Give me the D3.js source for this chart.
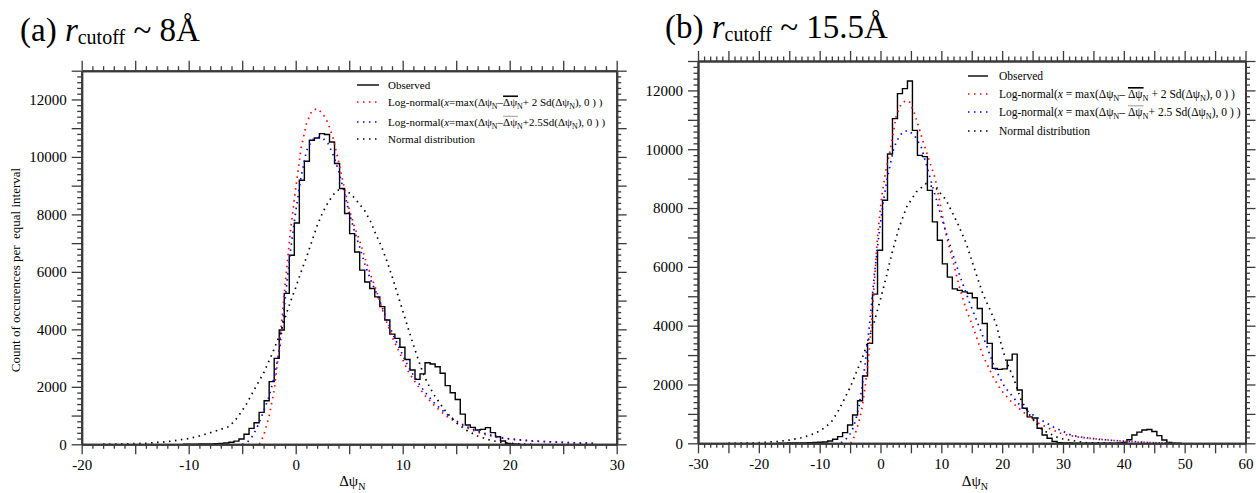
<!DOCTYPE html>
<html><head><meta charset="utf-8">
<script src="https://cdn.jsdelivr.net/npm/d3@7"></script>
<style>body{margin:0;background:#fff}svg{display:block}</style>
</head><body>
<svg id="chart" width="1256" height="493"></svg>
<script>
// ---------------- DATA ----------------
// Panel (a): r_cutoff ~ 8 Å  — observed histogram (bin left edge start, bin width, counts)
const obsA_binStart = -10.47;
const obsA_binWidth = 0.47;
const obsA_counts = [5,5,5,8,10,15,20,30,45,70,110,185,350,555,750,1110,1515,2180,2990,3975,
  5250,6580,7700,9190,9850,10580,10660,10810,10780,10520,9770,8900,8030,7330,6690,6060,5650,5420,5130,
  4790,4325,3835,3685,3375,2950,2585,2260,2450,2840,2795,2700,2470,2040,1795,1560,1050,670,590,500,520,
  580,405,265,115,30,10,0];
const redA_x = [-3.4,-3.0,-2.5,-2.0,-1.5,-1.0,-0.5,0,0.5,1,1.5,2,2.5,3,3.5,4,4.5,5,5.5,6,6.5,7,7.5,8,8.5,9,9.5,10,10.5,11,12,13,14,15,16,17,18,19,20,22,24,26,28];
const redA_y = [0,300,950,1900,3500,5500,7400,8900,10300,11150,11600,11680,11520,11200,10650,9850,9000,8180,7560,7060,6450,5900,5400,4800,4250,3750,3350,2950,2550,2250,1730,1330,1000,760,570,420,310,230,175,115,80,50,30];
const blueA_x = [-5,-4.5,-4,-3.5,-3,-2.5,-2,-1.5,-1,-0.5,0,0.5,1,1.5,2,2.5,3,3.5,4,4.5,5,5.5,6,6.5,7,7.5,8,8.5,9,9.5,10,10.5,11,12,13,14,15,16,17,18,19,20,22,24,26,28];
const blueA_y = [0,80,300,680,1150,1650,2350,3300,5000,6700,8100,9300,10200,10580,10680,10660,10480,10080,9530,8820,8060,7400,6840,6220,5730,5300,4850,4350,3900,3500,3100,2720,2400,1850,1420,1080,810,610,460,340,250,190,120,80,50,30];
const blackA_x = [-18,-16,-14,-12,-10,-9,-8,-7,-6.2,-5.4,-4.6,-3.8,-3.0,-2.2,-1.5,-1.0,-0.5,0,0.5,1,1.5,2,2.5,3,3.5,4,4.5,5,5.5,6,6.5,7,7.5,8,8.5,9,9.5,10,10.5,11,11.5,12,12.5,13,14,15,16,17,18,19,20,21,22];
const blackA_y = [5,15,35,90,200,290,400,520,620,950,1400,1950,2480,3150,3800,4400,4950,5450,6000,6500,7050,7600,8050,8400,8680,8850,8870,8750,8570,8340,8100,7750,7300,6900,6400,5850,5250,4650,4050,3450,2900,2380,2000,1680,1150,750,480,290,160,80,35,15,5];

// Panel (b): r_cutoff ~ 15.5 Å
const obsB_binStart = -16.89;
const obsB_binWidth = 0.82;
const obsB_counts = [5,5,8,10,12,15,20,25,35,45,78,136,226,362,622,961,1447,2286,3397,5071,
  6566,8264,9840,11040,11890,12060,12320,10640,9790,9750,8600,7530,6905,6100,5650,5250,5200,5150,5100,4950,
  4585,4076,3397,2548,2514,2530,2830,3033,1810,1190,900,860,510,282,170,60,20,
  10,8,6,5,5,5,5,5,5,5,5,10,30,120,280,380,450,470,400,260,110,25,5,0];
const redB_x = [-4.9,-4.5,-4,-3.5,-3,-2.5,-2,-1.5,-1,-0.5,0.2,0.9,1.6,2.6,3.4,4.2,4.8,5.6,6.3,7.1,8.1,9.0,9.9,10.8,11.9,13.0,14.0,15.2,16.8,18.5,19.8,21.5,23.4,25.5,27.7,29.9,32.1,34.3,38.6,43.0,46.0,48.5];
const redB_y = [0,130,420,760,1250,1950,2850,4000,5500,7000,8400,9300,9960,11150,11550,11660,11600,11210,10750,10190,9565,9000,8040,7075,6200,5300,4600,3960,3000,2262,1810,1413,1073,734,510,316,226,170,90,34,15,5];
const blueB_x = [-6.5,-6,-5.5,-5,-4.5,-4,-3.5,-3,-2.5,-2,-1.5,-1,-0.4,0.2,0.6,1.1,2.1,2.6,3.2,3.7,4.5,5.6,6.7,7.8,8.9,10.0,11.1,12.2,13.3,14.6,16.0,17.4,18.7,20.4,23.1,25.5,28.3,31.3,33.2,35.9,38.7,41.4,44.1,46.0,48.5];
const blueB_y = [20,80,180,320,520,850,1300,1950,2750,3650,4650,5750,6850,7800,8400,9000,9960,10245,10470,10585,10640,10470,10075,9285,8490,7700,6960,6225,5545,4810,4076,3339,2602,1923,1243,904,564,282,204,136,90,62,25,12,5];
const blackB_x = [-25,-20,-17,-15,-13,-12,-11,-10,-9,-8,-7,-6,-5,-4,-3,-2,-1,0,1,1.8,3,4.3,5.9,7.5,9.2,10.8,12.7,14.1,15.7,16.8,17.9,19.0,19.8,20.6,22.0,23.1,24.7,26.6,29.4,33.7,38];
const blackB_y = [5,20,60,110,190,250,320,420,560,750,1080,1480,1900,2400,2900,3500,4150,4900,5700,6400,7300,8040,8550,8830,8660,8265,7470,6790,5775,5095,4585,4076,3397,2830,2150,1471,904,452,170,20,5];

const yDomain = [0, 13000];
const xDomainA = [-20, 30];
const xDomainB = [-30, 60];

// ---------------- DRAW ----------------
const FONT = "'Liberation Serif','Times New Roman',serif";
const svg = d3.select('#chart').style('font-family', FONT);
svg.append('rect').attr('width',1256).attr('height',493).attr('fill','#fff');

function richText(parent, x, y, size, segs, opts) {
  const t = parent.append('text').attr('x', x).attr('y', y)
    .attr('font-size', size).attr('fill', '#000')
    .attr('xml:space', 'preserve').style('white-space', 'pre');
  let shift = 0; let idx = 0; const overs = [];
  segs.forEach(s => {
    const seg = typeof s === 'string' ? {t: s} : s;
    const ts = t.append('tspan').text(seg.t);
    const want = seg.sub ? (opts.subDy) : 0;
    if (want !== shift) { ts.attr('dy', want - shift); shift = want; }
    if (seg.sub) ts.attr('font-size', opts.subSize);
    if (seg.it) ts.attr('font-style', 'italic');
    if (seg.size) ts.attr('font-size', seg.size);
    if (seg.over) overs.push([idx, seg.t.length, seg.overColor || '#000', seg.overW || 1]);
    idx += seg.t.length;
  });
  const node = t.node();
  overs.forEach(([i, n, col, w]) => {
    const a = node.getStartPositionOfChar(i).x;
    const b = node.getEndPositionOfChar(i + n - 1).x;
    parent.append('line').attr('x1', a).attr('x2', b + 1)
      .attr('y1', y - size * 0.86).attr('y2', y - size * 0.86)
      .attr('stroke', col).attr('stroke-width', w);
  });
  return t;
}

function drawPanel(cfg) {
  const g = svg.append('g');
  const x = d3.scaleLinear().domain(cfg.xDomain).range([cfg.x0, cfg.x1]);
  const y = d3.scaleLinear().domain(yDomain).range([cfg.y0, cfg.y1]);

  // observed step histogram
  const pts = [[cfg.binStart, 0]];
  cfg.counts.forEach((c, i) => {
    const a = cfg.binStart + i * cfg.binWidth;
    pts.push([a, c], [a + cfg.binWidth, c]);
  });
  pts.push([cfg.binStart + cfg.counts.length * cfg.binWidth, 0]);
  const line = d3.line().x(d => x(d[0])).y(d => y(d[1]));
  g.append('path').attr('d', line(pts)).attr('fill', 'none')
    .attr('stroke', '#000').attr('stroke-width', 1.4);

  const curves = [
    {xs: cfg.redX, ys: cfg.redY, col: '#ff0000'},
    {xs: cfg.blueX, ys: cfg.blueY, col: '#0000ff'},
    {xs: cfg.blackX, ys: cfg.blackY, col: '#000000'}
  ];
  curves.forEach(c => {
    const d = c.xs.map((v, i) => [v, c.ys[i]]);
    g.append('path').attr('d', line(d)).attr('fill', 'none')
      .attr('stroke', c.col).attr('stroke-width', 1.7)
      .attr('stroke-dasharray', '1.5,4.5');
  });

  // axes
  const [xa, xb] = cfg.xDomain;
  const minorX = d3.range(xa, xb + 0.001, 1).filter(v => v % 5 !== 0);
  const majorX = d3.range(xa, xb + 0.001, 5);
  const minorY = d3.range(0, 13001, 200).filter(v => v % 1000 !== 0);
  const majorY = d3.range(0, 13001, 1000);
  const fmtX = d => (d % 10 === 0 ? String(d) : '');
  const fmtY = d => (d % 2000 === 0 ? String(d) : '');
  const ax = g.append('g');
  const y0 = y(0), y1 = y(13000), x0 = x(xa), x1 = x(xb);
  ax.append('g').attr('transform', `translate(0,${y0})`).call(d3.axisBottom(x).tickValues(minorX).tickSize(4.5).tickSizeOuter(0).tickFormat(''));
  ax.append('g').attr('transform', `translate(0,${y0})`).call(d3.axisBottom(x).tickValues(majorX).tickSize(10).tickSizeOuter(0).tickPadding(5.5).tickFormat(fmtX));
  ax.append('g').attr('transform', `translate(0,${y1})`).call(d3.axisTop(x).tickValues(minorX).tickSize(4.5).tickSizeOuter(0).tickFormat(''));
  ax.append('g').attr('transform', `translate(0,${y1})`).call(d3.axisTop(x).tickValues(majorX).tickSize(10).tickSizeOuter(0).tickFormat(''));
  ax.append('g').attr('transform', `translate(${x0},0)`).call(d3.axisLeft(y).tickValues(minorY).tickSize(4.5).tickSizeOuter(0).tickFormat(''));
  ax.append('g').attr('transform', `translate(${x0},0)`).call(d3.axisLeft(y).tickValues(majorY).tickSize(10).tickSizeOuter(0).tickPadding(5).tickFormat(fmtY));
  ax.append('g').attr('transform', `translate(${x1},0)`).call(d3.axisRight(y).tickValues(minorY).tickSize(4.5).tickSizeOuter(0).tickFormat(''));
  ax.append('g').attr('transform', `translate(${x1},0)`).call(d3.axisRight(y).tickValues(majorY).tickSize(10).tickSizeOuter(0).tickFormat(''));
  ax.selectAll('.domain').attr('stroke', '#3a3a3a').attr('stroke-width', 2);
  ax.selectAll('.tick line').attr('stroke', '#3a3a3a').attr('stroke-width', 1.3);
  ax.selectAll('.tick text').attr('font-family', FONT).attr('font-size', 15).attr('fill', '#000');

  // x axis title
  richText(g, (x0 + x1) / 2 - 10, cfg.xTitleY, 15,
    ['Δψ', {t: 'N', sub: true}], {subSize: 10, subDy: 4});

  // legend
  const L = cfg.legend;
  const rows = [
    {col: '#000', solid: true, segs: ['Observed']},
    {col: '#ff0000', segs: L.red},
    {col: '#0000ff', segs: L.blue},
    {col: '#000', segs: ['Normal distribution']}
  ];
  rows.forEach((r, i) => {
    const ly = L.ys[i];
    g.append('line').attr('x1', L.x0).attr('x2', L.x1).attr('y1', ly).attr('y2', ly)
      .attr('stroke', r.col).attr('stroke-width', r.solid ? 1.4 : 1.7)
      .attr('stroke-dasharray', r.solid ? null : '1.5,4.5');
    richText(g, L.tx, ly + 3.7, L.size, r.segs, {subSize: L.size * 0.72, subDy: 3});
  });

  // title
  richText(svg, cfg.titleX, cfg.titleY, 33,
    [cfg.titlePre, {t: 'r', it: true}, {t: 'cutoff', sub: true}, cfg.titlePost],
    {subSize: 20, subDy: 3});
}

const legRedA = ['Log-normal(', {t: 'x', it: true}, '=max(Δψ', {t: 'N', sub: true}, '–', {t: 'Δψ', over: true, overW: 1.6}, {t: 'N', sub: true}, '+ 2 Sd(Δψ', {t: 'N', sub: true}, '), 0 ) )'];
const legBlueA = ['Log-normal(', {t: 'x', it: true}, '=max(Δψ', {t: 'N', sub: true}, '–', {t: 'Δψ', over: true, overColor: '#999', overW: 1}, {t: 'N', sub: true}, '+2.5Sd(Δψ', {t: 'N', sub: true}, '), 0 ) )'];
const legRedB = ['Log-normal(', {t: 'x', it: true}, ' = max(Δψ', {t: 'N', sub: true}, '– ', {t: 'Δψ', over: true, overW: 1.6}, {t: 'N', sub: true}, ' + 2 Sd(Δψ', {t: 'N', sub: true}, '), 0 ) )'];
const legBlueB = ['Log-normal(', {t: 'x', it: true}, ' = max(Δψ', {t: 'N', sub: true}, '– ', {t: 'Δψ', over: true, overColor: '#999', overW: 1}, {t: 'N', sub: true}, '+ 2.5 Sd(Δψ', {t: 'N', sub: true}, '), 0 ) )'];

drawPanel({
  x0: 81.7, x1: 616.7, y0: 444.3, y1: 70.7, xDomain: xDomainA,
  binStart: obsA_binStart, binWidth: obsA_binWidth, counts: obsA_counts,
  redX: redA_x, redY: redA_y, blueX: blueA_x, blueY: blueA_y, blackX: blackA_x, blackY: blackA_y,
  xTitleY: 486,
  legend: {x0: 357, x1: 379, tx: 388, ys: [85, 102, 122, 139], size: 11, red: legRedA, blue: legBlueA},
  titleX: 20, titleY: 40.7, titlePre: '(a) ', titlePost: ' ~ 8Å'
});
drawPanel({
  x0: 698, x1: 1245.5, y0: 443.3, y1: 61, xDomain: xDomainB,
  binStart: obsB_binStart, binWidth: obsB_binWidth, counts: obsB_counts,
  redX: redB_x, redY: redB_y, blueX: blueB_x, blueY: blueB_y, blackX: blackB_x, blackY: blackB_y,
  xTitleY: 486,
  legend: {x0: 968, x1: 988, tx: 999, ys: [76, 94, 112, 131], size: 11.5, red: legRedB, blue: legBlueB},
  titleX: 665, titleY: 37.5, titlePre: '(b) ', titlePost: ' ~ 15.5Å'
});

// y axis title (left panel)
svg.append('text').attr('transform', 'translate(20,270) rotate(-90)')
  .attr('text-anchor', 'middle').attr('font-size', 13).attr('fill', '#000')
  .attr('xml:space', 'preserve').style('white-space', 'pre')
  .text('Count of occurences per  equal interval');
</script>
</body></html>
